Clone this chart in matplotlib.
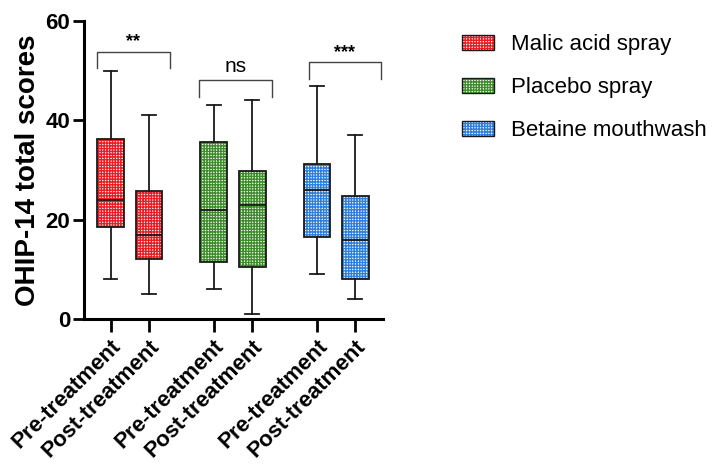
import matplotlib
matplotlib.use("Agg")
import matplotlib.pyplot as plt
from matplotlib.patches import Patch, PathPatch
from matplotlib.legend_handler import HandlerTuple

plt.rcParams['font.family'] = ['Liberation Sans', 'DejaVu Sans']
plt.rcParams['hatch.linewidth'] = 1.0

# ---- data ----
groups = ["Malic acid spray", "Placebo spray", "Betaine mouthwash"]
colors = ["#ec1c24", "#3e8c2c", "#2f7fdc"]
tick_labels = ["Pre-treatment", "Post-treatment"] * 3
whislo = [8, 5, 6, 1, 9, 4]
q1 = [18.5, 12, 11.5, 10.5, 16.5, 8]
med = [24, 17, 22, 23, 26, 16]
q3 = [36.3, 25.8, 35.7, 29.8, 31.3, 24.8]
whishi = [50, 41, 43, 44, 47, 37]
sig_labels = ["**", "ns", "***"]
sig_top = [53.8, 48.1, 51.7]
sig_leg = [50.5, 44.7, 48.3]

HATCH = '+' * 6

# ---- layout ----
fig = plt.figure(figsize=(7.13, 4.67), dpi=100)
ax = fig.add_axes([84/713, 1-319/467, 299/713, 298/467])
group_starts = [0.69, 3.37, 6.05]
positions = [g + k for g in group_starts for k in (0, 1)]
box_w = 0.69
br_x0 = [0.34, 2.99, 5.84]
br_x1 = [2.23, 4.88, 7.71]

stats = []
for i in range(6):
    stats.append(dict(whislo=whislo[i], q1=q1[i], med=med[i], q3=q3[i],
                      whishi=whishi[i], fliers=[], label=tick_labels[i]))

bp = ax.bxp(stats, positions=positions, widths=box_w, patch_artist=True,
            showfliers=False,
            boxprops=dict(linewidth=0),
            medianprops=dict(color='#1a1a1a', linewidth=1.3),
            whiskerprops=dict(color='#1a1a1a', linewidth=1.3),
            capprops=dict(color='#1a1a1a', linewidth=1.3),
            capwidths=0.36)
for i, box in enumerate(bp['boxes']):
    c = colors[i // 2]
    box.set_facecolor('white')
    box.set_edgecolor(c)
    box.set_hatch(HATCH)
    box.set_linewidth(0)
    outline = PathPatch(box.get_path(), transform=box.get_transform(),
                        fill=False, edgecolor='#1a1a1a', linewidth=1.3, zorder=3)
    ax.add_patch(outline)

for i in range(3):
    ax.plot([br_x0[i], br_x0[i], br_x1[i], br_x1[i]],
            [sig_leg[i], sig_top[i], sig_top[i], sig_leg[i]],
            color='#444444', linewidth=1.0, clip_on=False)
    if sig_labels[i] == 'ns':
        ax.text((br_x0[i] + br_x1[i]) / 2, sig_top[i] + 0.8, sig_labels[i],
                ha='center', va='bottom', fontsize=15)
    else:
        ax.text((br_x0[i] + br_x1[i]) / 2, sig_top[i] + 0.3, sig_labels[i],
                ha='center', va='bottom', fontsize=13, fontweight='bold')

ax.set_xlim(0, 299/38.5)
ax.set_ylim(0, 60)
ax.set_yticks([0, 20, 40, 60])
ax.set_xticks(positions)
ax.set_xticklabels(tick_labels, rotation=45, ha='right', rotation_mode='anchor',
                   fontsize=16, fontweight='bold')
for lbl in ax.get_yticklabels():
    lbl.set_fontweight('bold')
ax.tick_params(axis='y', labelsize=16, width=2, length=8, pad=2)
ax.tick_params(axis='x', width=2, length=9, pad=3)
for s in ['top', 'right']:
    ax.spines[s].set_visible(False)
for s in ['left', 'bottom']:
    ax.spines[s].set_linewidth(2.2)
ax.set_ylabel("OHIP-14 total scores", fontsize=20, fontweight='bold', labelpad=3)

handles = []
for c in colors:
    handles.append((Patch(facecolor='white', edgecolor=c, hatch=HATCH, linewidth=0),
                    Patch(fill=False, edgecolor='#1a1a1a', linewidth=1.0)))
fig.legend(handles, groups, handler_map={tuple: HandlerTuple(ndivide=1, pad=0)},
           loc='upper left', bbox_to_anchor=(442/713, 1-14/467), frameon=False,
           fontsize=16, handlelength=1.45, handleheight=0.65, labelspacing=1.0,
           handletextpad=0.75)

fig.savefig("out.png", dpi=100)
